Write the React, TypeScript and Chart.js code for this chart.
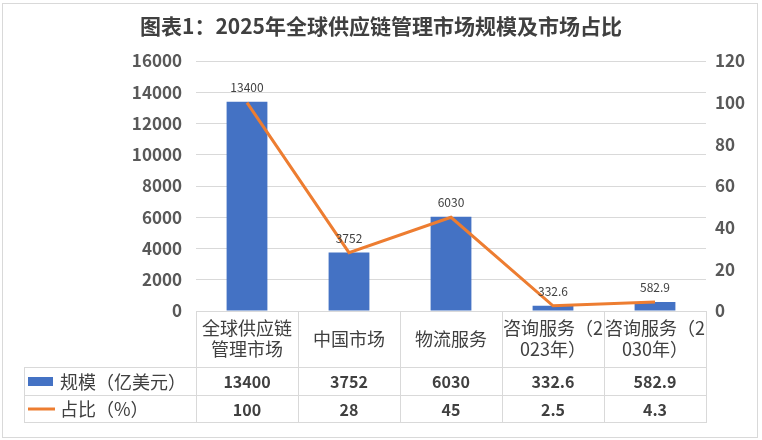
import React, { useEffect, useRef } from "react";
import { Chart, registerables } from "chart.js";

Chart.register(...registerables);

const TITLE = "图表1：2025年全球供应链管理市场规模及市场占比";
const categories = ["全球供应链管理市场", "中国市场", "物流服务", "咨询服务（2023年）", "咨询服务（2030年）"];
const categoryLines = [
  ["全球供应链", "管理市场"],
  ["中国市场"],
  ["物流服务"],
  ["咨询服务（2", "023年）"],
  ["咨询服务（2", "030年）"],
];
const sizeValues = [13400, 3752, 6030, 332.6, 582.9];
const shareValues = [100, 28, 45, 2.5, 4.3];
const sizeLabel = "规模（亿美元）";
const shareLabel = "占比（%）";
const leftTicks = { min: 0, max: 16000, step: 2000 };
const rightTicks = { min: 0, max: 120, step: 20 };

const BLUE = "#4472C4";
const ORANGE = "#ED7D31";
const GRID = "#d9d9d9";
const TEXT = "#404040";
const FONT = '"Noto Sans CJK SC", "Noto Sans", sans-serif';

const W = 762;
const H = 440;
const PLOT_LEFT = 196;
const PLOT_RIGHT = 706;
const PLOT_TOP = 61;
const PLOT_BOTTOM = 311;

const overlayPlugin = {
  id: "overlay",
  afterDraw(chart: any) {
    const ctx = chart.ctx as CanvasRenderingContext2D;
    const xs = chart.scales.x;
    const area = chart.chartArea;
    ctx.save();

    // outer border
    ctx.strokeStyle = GRID;
    ctx.lineWidth = 1;
    ctx.strokeRect(2.5, 3.5, 755, 434);

    // title
    ctx.fillStyle = TEXT;
    ctx.font = `bold 21px ${FONT}`;
    ctx.textAlign = "center";
    ctx.textBaseline = "middle";
    ctx.fillText(TITLE, W / 2, 26);

    // data labels above bars
    const meta = chart.getDatasetMeta(0);
    ctx.font = `12px ${FONT}`;
    ctx.fillStyle = TEXT;
    ctx.textBaseline = "bottom";
    meta.data.forEach((bar: any, i: number) => {
      ctx.fillText(String(sizeValues[i]), bar.x, bar.y - 8);
    });

    // table
    const n = categories.length;
    const half = (xs.getPixelForValue(1) - xs.getPixelForValue(0)) / 2;
    const bounds: number[] = [];
    for (let i = 0; i < n; i++) bounds.push(xs.getPixelForValue(i) - half);
    bounds.push(xs.getPixelForValue(n - 1) + half);

    const top = area.bottom;
    const r1 = 367;
    const r2 = 395;
    const r3 = 422;
    const legendLeft = 24;

    ctx.strokeStyle = GRID;
    ctx.lineWidth = 1;
    ctx.beginPath();
    ctx.moveTo(bounds[0], top + 0.5);
    ctx.lineTo(bounds[n], top + 0.5);
    [r1, r2, r3].forEach((y) => {
      ctx.moveTo(legendLeft, y + 0.5);
      ctx.lineTo(bounds[n], y + 0.5);
    });
    bounds.forEach((x) => {
      const xx = Math.round(x) + 0.5;
      ctx.moveTo(xx, top);
      ctx.lineTo(xx, r3 + 1);
    });
    ctx.moveTo(legendLeft + 0.5, r1);
    ctx.lineTo(legendLeft + 0.5, r3 + 1);
    ctx.stroke();

    // category labels
    ctx.fillStyle = TEXT;
    ctx.textAlign = "center";
    ctx.textBaseline = "middle";
    ctx.font = `18px ${FONT}`;
    const hc = (top + r1) / 2;
    categoryLines.forEach((lines, i) => {
      const cx = xs.getPixelForValue(i);
      const lh = 21;
      const start = hc - ((lines.length - 1) * lh) / 2;
      lines.forEach((ln, j) => ctx.fillText(ln, cx, start + j * lh));
    });

    // values
    ctx.font = `bold 16px ${FONT}`;
    sizeValues.forEach((v, i) => ctx.fillText(String(v), xs.getPixelForValue(i), (r1 + r2) / 2 + 1));
    shareValues.forEach((v, i) => ctx.fillText(String(v), xs.getPixelForValue(i), (r2 + r3) / 2 + 1));

    // legend keys
    ctx.fillStyle = BLUE;
    ctx.fillRect(28, 377, 25, 9);
    ctx.strokeStyle = ORANGE;
    ctx.lineWidth = 3;
    ctx.beginPath();
    ctx.moveTo(28, 409);
    ctx.lineTo(55, 409);
    ctx.stroke();

    ctx.fillStyle = TEXT;
    ctx.font = `18px ${FONT}`;
    ctx.textAlign = "left";
    ctx.fillText(sizeLabel, 60, (r1 + r2) / 2 + 1);
    ctx.fillText(shareLabel, 60, (r2 + r3) / 2 + 1);

    ctx.restore();
  },
};

export default function App() {
  const ref = useRef<HTMLCanvasElement | null>(null);

  useEffect(() => {
    if (!ref.current) return;
    const chart = new Chart(ref.current, {
      type: "bar",
      data: {
        labels: categories,
        datasets: [
          {
            type: "bar",
            label: sizeLabel,
            data: sizeValues,
            backgroundColor: BLUE,
            yAxisID: "y",
            barPercentage: 0.4,
            categoryPercentage: 1,
            order: 2,
          },
          {
            type: "line",
            label: shareLabel,
            data: shareValues,
            borderColor: ORANGE,
            backgroundColor: ORANGE,
            borderWidth: 3,
            pointRadius: 0,
            tension: 0,
            yAxisID: "y1",
            order: 1,
          } as any,
        ],
      },
      options: {
        responsive: false,
        animation: false,
        devicePixelRatio: 1,
        layout: {
          padding: { left: 0, right: 0, top: PLOT_TOP, bottom: H - PLOT_BOTTOM },
        },
        plugins: {
          legend: { display: false },
          tooltip: { enabled: false },
          title: { display: false },
        },
        scales: {
          x: {
            type: "category",
            display: false,
            offset: true,
          },
          y: {
            position: "left",
            min: leftTicks.min,
            max: leftTicks.max,
            ticks: {
              stepSize: leftTicks.step,
              color: "#595959",
              font: { family: FONT, size: 17, weight: "bold" },
              padding: 14,
              callback: (v: any) => String(v),
            },
            grid: { color: GRID, drawTicks: false },
            border: { display: false },
            afterFit: (s: any) => {
              s.width = PLOT_LEFT;
            },
          },
          y1: {
            position: "right",
            min: rightTicks.min,
            max: rightTicks.max,
            ticks: {
              stepSize: rightTicks.step,
              color: "#595959",
              font: { family: FONT, size: 17, weight: "bold" },
              padding: 9,
              callback: (v: any) => String(v),
            },
            grid: { display: false, drawTicks: false },
            border: { display: false },
            afterFit: (s: any) => {
              s.width = W - PLOT_RIGHT;
            },
          },
        } as any,
      },
      plugins: [overlayPlugin],
    });
    return () => chart.destroy();
  }, []);

  return (
    <div style={{ position: "fixed", left: 0, top: 0, width: W, height: H, background: "#fff" }}>
      <canvas ref={ref} width={W} height={H} style={{ display: "block", width: W, height: H }} />
    </div>
  );
}
